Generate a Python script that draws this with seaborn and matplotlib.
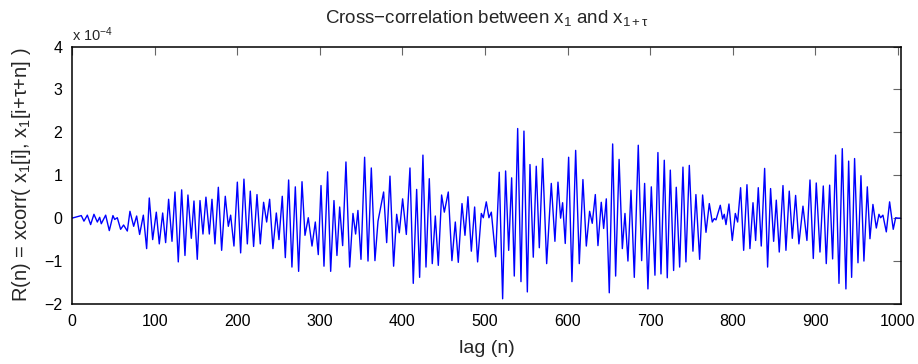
import matplotlib
matplotlib.use("Agg")
import matplotlib.pyplot as plt
import seaborn as sns
import pandas as pd

# lag positions of the turning points of the curve
lag_a = [0, 11.3, 14.5, 18.6, 22.6, 26.6, 30.7, 33.5, 35.5, 40.8,
         45.2, 49.6, 51.7, 54.9, 58.9, 62.5, 67.0, 70.2, 74.7, 78.3,
         81.9, 86.4, 90.4, 93.6, 97.7,
         102.1, 105.7, 109.8, 113.4, 117.0, 121.1, 124.7, 128.7, 132.8, 136.8,
         140.4, 144.5, 147.7, 151.7, 155.0, 158.6, 162.2, 166.3]
r_a = [0.0, 0.06, -0.07, 0.07, -0.15, 0.09, -0.09, 0.02, -0.13, 0.07,
       -0.29, 0.06, -0.03, 0.01, -0.26, -0.16, -0.30, 0.16, -0.19, 0.05,
       -0.38, 0.07, -0.71, 0.47, -0.50,
       0.14, -0.60, 0.12, -0.57, 0.44, -0.54, 0.61, -1.02, 0.66, -0.87,
       0.54, -0.47, 0.40, -0.96, 0.41, -0.37, 0.49, -0.37]

lag_b = [169.5, 173.1, 177.2, 181.2, 185.6, 189.3, 192.1, 196.1, 200.2, 204.2,
         208.2, 212.3, 215.9, 219.9, 224.0, 228.0, 232.0, 235.7, 239.3, 243.3,
         247.4, 250.6, 254.6, 258.3, 262.3, 266.3, 270.4, 274.4, 278.5, 282.1,
         286.1, 290.6, 294.6, 298.2, 301.5, 305.1, 309.5, 313.2, 317.2, 320.8,
         324.1, 327.7, 331.7]
r_b = [0.44, -0.60, 0.72, -0.75, 0.51, -0.19, 0.07, -0.65, 0.84, -0.81,
       0.91, -0.60, 0.63, -0.66, 0.55, -0.60, 0.37, -0.09, 0.44, -0.71,
       0.12, -0.50, 0.51, -0.92, 0.89, -1.14, 0.73, -1.24, 0.85, -0.40,
       0.01, -0.65, -0.09, -0.85, 0.76, -1.12, 1.08, -1.24, 0.41, -0.87,
       0.26, -0.64, 1.31]

lag_c = [336.2, 340.2, 343.4, 346.2, 349.9, 354.3, 358.4, 362.4, 366.8, 370.5,
         377.3, 381.0, 385.0, 389.4, 393.1, 396.3, 400.3, 404.8, 409.2, 413.2,
         417.3, 420.9, 424.9, 428.6, 432.6, 436.2, 439.9, 443.5, 447.5, 450.8,
         455.6, 460.0, 464.1, 467.7, 472.2, 475.8, 479.4, 483.5, 487.5, 491.1,
         495.6]
r_c = [-1.14, 0.11, -0.37, 0.18, -0.96, 1.42, -1.00, 1.17, -0.99, -0.07,
       0.61, -0.57, 0.98, -1.12, 0.09, -0.34, 0.45, -0.38, 1.17, -1.52,
       0.67, -1.38, 1.47, -1.14, 0.92, -1.06, 0.05, -1.10, 0.54, 0.14,
       0.61, -0.99, -0.09, -1.03, 0.34, -0.40, 0.50, -0.77, 0.26, -1.02,
       0.11]

lag_d = [498.0, 501.6, 504.8, 507.7, 512.9, 517.3, 521.4, 525.0, 528.7, 532.3,
         535.5, 539.6, 543.6, 547.2, 551.3, 554.5, 558.5, 562.1, 565.8, 569.8,
         574.7, 580.3, 584.7, 588.4, 591.6, 594.0, 597.2, 601.3, 605.3, 609.8,
         614.2, 618.6, 622.7, 626.7, 629.9, 633.6, 636.8, 640.8, 643.7, 646.9,
         650.5, 654.6, 658.2, 662.4]
r_d = [0.01, 0.38, 0.01, 0.14, -0.90, 1.07, -1.88, 1.10, -0.75, 0.94,
       -1.35, 2.09, -1.48, 2.03, -1.72, 1.25, -0.91, 1.21, -0.69, 1.39,
       -1.06, 0.81, -0.54, 0.84, 0.00, 0.36, -0.59, 1.42, -1.48, 1.58,
       -1.06, 0.90, -0.65, 0.16, -0.12, 0.55, -0.64, 0.37, -0.24, 0.45,
       -1.74, 1.73, -1.35, 1.37]

lag_e = [666.3, 669.5, 673.1, 676.8, 680.8, 685.6, 689.7, 693.3, 697.3, 701.4,
         705.8, 709.4, 713.1, 717.1, 720.7, 724.4, 728.4, 731.6, 735.7, 739.7,
         743.3, 747.4, 751.8, 755.4, 759.9, 763.5, 767.6, 771.6, 775.2, 777.6,
         779.7, 784.9, 787.7, 789.7, 791.8, 795.4, 799.4, 803.1, 805.9, 809.5,
         813.2, 817.2, 820.8]
r_e = [-0.71, 0.11, -1.00, 0.65, -1.38, 1.70, -0.99, 0.81, -1.65, 0.73,
       -1.33, 1.53, -1.30, 1.35, -1.39, 1.12, -1.22, 0.72, -1.14, 1.19,
       -1.02, 1.23, -0.77, 0.55, -0.96, 0.54, -0.33, 0.34, -0.09, -0.01,
       -0.04, 0.30, -0.02, 0.09, -0.15, 0.33, -0.52, 0.11, -0.09, 0.71,
       -0.75, 0.78, -0.71]

lag_f = [824.5, 827.7, 830.9, 834.5, 838.6, 842.2, 845.8, 849.5, 852.7, 856.3,
         860.8, 864.4, 868.4, 872.1, 876.1, 880.1, 885.0, 889.8, 893.5, 897.5,
         901.1, 905.6, 909.6, 913.2, 917.3, 920.9, 924.5, 928.6, 932.6, 937.0,
         940.3, 943.9, 947.5, 951.6, 955.2, 958.8, 962.9, 966.1, 969.7, 973.8,
         977.0, 979.0, 981.8, 985.9, 989.9, 994.3, 997.2, 1000.0, 1003.0]
r_f = [0.36, -0.52, 0.71, -0.65, 1.16, -1.14, 0.69, -0.54, 0.42, -0.79,
       0.76, -0.75, 0.63, -0.47, 0.53, -0.60, 0.28, -0.52, 0.89, -0.94,
       0.82, -0.79, 0.75, -1.06, 0.77, -0.95, 1.47, -1.52, 1.62, -1.65,
       1.33, -1.38, 1.39, -1.04, 0.99, -1.00, 0.73, -0.48, 0.32, -0.23,
       0.09, 0.01, 0.07, -0.32, 0.38, -0.26, 0.01, 0.00, 0.00]

x_ticks = list(range(0, 1001, 100))
y_ticks = [-2, -1, 0, 1, 2, 3, 4]


def main():
    df = pd.DataFrame({
        "lag": lag_a + lag_b + lag_c + lag_d + lag_e + lag_f,
        "r": r_a + r_b + r_c + r_d + r_e + r_f,
    })

    sns.set_style("white")
    plt.rcParams["font.family"] = ["Liberation Sans", "DejaVu Sans"]
    plt.rcParams["mathtext.fontset"] = "custom"
    plt.rcParams["mathtext.rm"] = "Liberation Sans"
    plt.rcParams["mathtext.it"] = "Liberation Sans"

    fig = plt.figure(figsize=(9.18, 3.64), dpi=100)
    ax = fig.add_axes([0.0784, 0.165, 0.903, 0.707])

    sns.lineplot(data=df, x="lag", y="r", color="blue", lw=1.0,
                 estimator=None, sort=False, ax=ax)

    ax.set_xlim(0, 1003.6)
    ax.set_ylim(-2, 4)
    ax.set_xticks(x_ticks)
    ax.set_yticks(y_ticks)
    ax.tick_params(direction="in", top=True, right=True, length=6, width=0.8,
                   color="0.4", labelsize=11.5, labelcolor="black", pad=7)
    for s in ax.spines.values():
        s.set_color("black")
        s.set_linewidth(1.1)

    ax.set_title(r"Cross$-$correlation between x$_1$ and x$_{1+\tau}$",
                 fontsize=13.5, pad=17)
    ax.set_xlabel("lag (n)", fontsize=14, labelpad=8)
    ax.set_ylabel(r"R(n) = xcorr( x$_1$[i], x$_1$[i+$\tau$+n] )", fontsize=14.5,
                  labelpad=8)
    ax.text(0.0, 1.012, r"x 10$^{-4}$", transform=ax.transAxes, fontsize=10.5,
            ha="left", va="bottom")

    fig.savefig("out.png", dpi=100, facecolor="white")
    plt.close(fig)


if __name__ == "__main__":
    main()
